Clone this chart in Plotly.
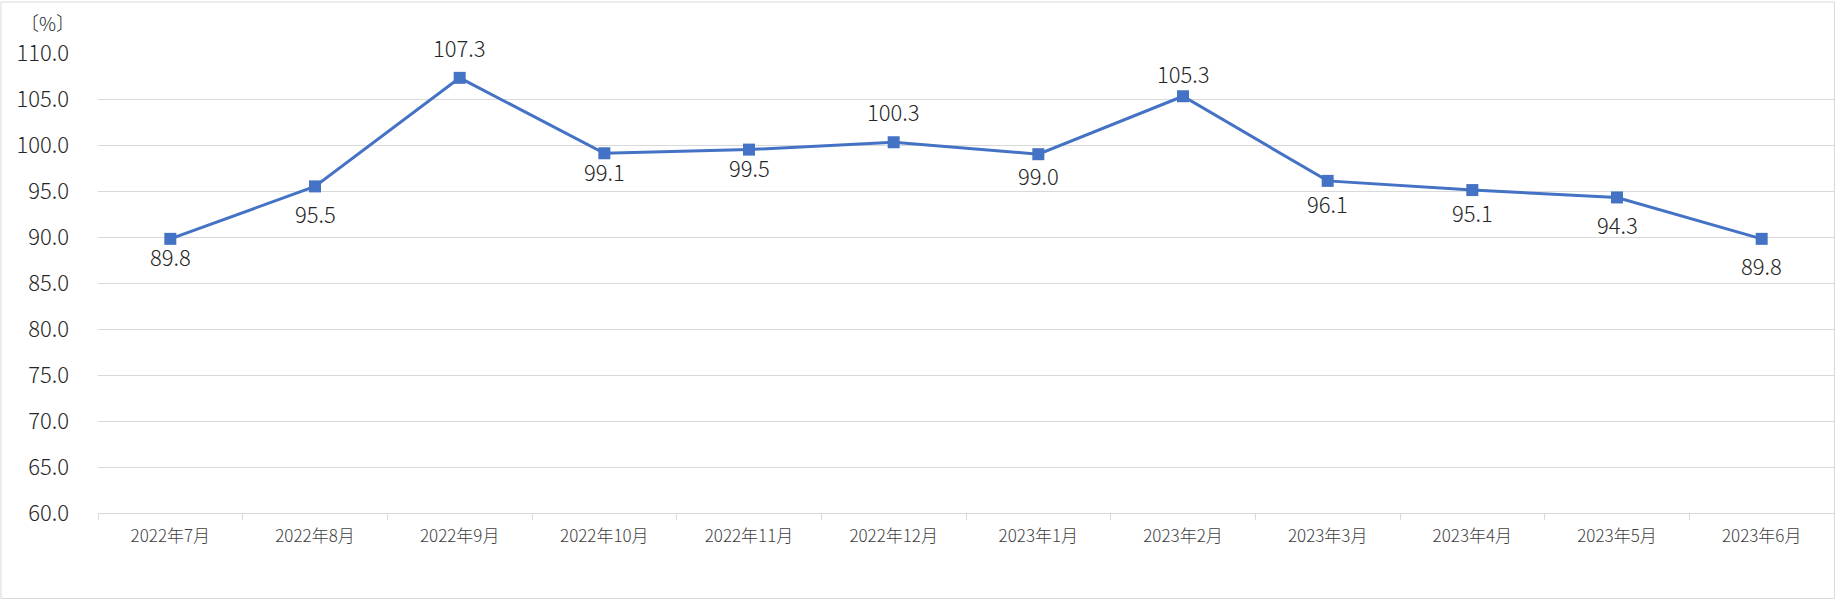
import plotly.graph_objects as go

months = ["2022年7月", "2022年8月", "2022年9月", "2022年10月", "2022年11月", "2022年12月",
          "2023年1月", "2023年2月", "2023年3月", "2023年4月", "2023年5月", "2023年6月"]
values = [89.8, 95.5, 107.3, 99.1, 99.5, 100.3, 99.0, 105.3, 96.1, 95.1, 94.3, 89.8]
y_ticks = [60, 65, 70, 75, 80, 85, 90, 95, 100, 105, 110]

# pixel offsets of each data label from its marker (positive = above)
label_shift = [-17, -26.5, 31, -18, -17.5, 31.5, -21, 23, -22, -21.5, -27, -26]

FONT = "Noto Sans CJK JP"
TEXT_COLOR = "#262626"

fig = go.Figure()
fig.add_trace(go.Scatter(
    x=months, y=values,
    mode="lines+markers",
    line=dict(color="#4472C4", width=3),
    marker=dict(symbol="square", size=12, color="#4472C4"),
    cliponaxis=False,
    showlegend=False,
))

annotations = []
for m, v, s in zip(months, values, label_shift):
    annotations.append(dict(
        x=m, y=v, xref="x", yref="y", text=f"{v:.1f}", showarrow=False,
        xanchor="center", yanchor="middle", yshift=s,
        font=dict(family=FONT, size=22, color=TEXT_COLOR, weight=300),
    ))

W, H = 1836, 600
pl, pr, pt, pb = 98, 2, 53, 87
pw, ph = W - pl - pr, H - pt - pb

annotations.append(dict(
    text="〔%〕", x=(47 - pl) / pw, y=(H - 23 - pb) / ph, xref="paper", yref="paper",
    showarrow=False, font=dict(family=FONT, size=19, color=TEXT_COLOR, weight=300),
    xanchor="center", yanchor="middle",
))

fig.update_layout(
    width=W, height=H,
    margin=dict(l=pl, r=pr, t=pt, b=pb),
    plot_bgcolor="white", paper_bgcolor="white",
    font=dict(family=FONT),
    xaxis=dict(
        type="category",
        tickson="boundaries",
        ticks="outside", ticklen=6, tickcolor="#D9D9D9", tickwidth=1,
        showline=True, linecolor="#D9D9D9", linewidth=1,
        showgrid=False,
        tickfont=dict(family=FONT, size=17, color="#404040", weight=300),
        ticklabelstandoff=8,
        range=[-0.5, 11.5],
    ),
    yaxis=dict(
        range=[60, 110],
        tickvals=y_ticks,
        ticktext=[f"{v:.1f}" for v in y_ticks],
        showgrid=True, gridcolor="#D9D9D9", gridwidth=1,
        zeroline=False, showline=False,
        tickfont=dict(family=FONT, size=22, color=TEXT_COLOR, weight=300),
        ticklabelstandoff=28,
    ),
    annotations=annotations,
    shapes=[dict(type="rect", xref="paper", yref="paper",
                 x0=(1 - pl) / pw, x1=(W - 1.5 - pl) / pw,
                 y0=(1.5 - pb) / ph, y1=(H - 2 - pb) / ph,
                 line=dict(color="#D9D9D9", width=1))],
)

fig.write_html("out.html")
